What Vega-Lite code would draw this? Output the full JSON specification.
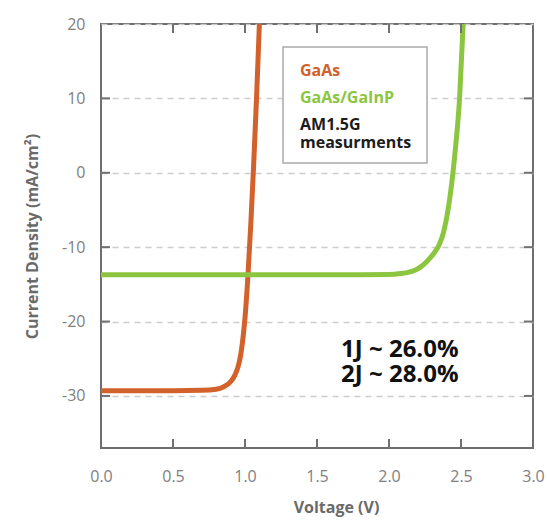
{
  "$schema": "https://vega.github.io/schema/vega-lite/v6.json",
  "width": 432,
  "height": 424,
  "autosize": {"type": "none"},
  "padding": {"left": 101, "top": 24, "right": 14, "bottom": 83},
  "background": "white",
  "config": {
    "font": "Open Sans",
    "view": {"stroke": "#6e6e6e", "strokeWidth": 2},
    "axis": {
      "domain": false,
      "ticks": false,
      "labelFlush": false,
      "labelColor": "#808080",
      "labelFontSize": 16,
      "titleColor": "#6a6a6a",
      "titleFontSize": 16,
      "titleFontWeight": "bold"
    }
  },
  "datasets": {
    "curves": [
      {"series": "GaAs", "v": 0.0, "j": -29.3},
      {"series": "GaAs", "v": 0.5, "j": -29.3},
      {"series": "GaAs", "v": 0.7, "j": -29.25},
      {"series": "GaAs", "v": 0.8, "j": -29.1},
      {"series": "GaAs", "v": 0.85, "j": -28.8},
      {"series": "GaAs", "v": 0.9, "j": -28.1},
      {"series": "GaAs", "v": 0.93, "j": -27.2},
      {"series": "GaAs", "v": 0.95, "j": -26.2},
      {"series": "GaAs", "v": 0.97, "j": -24.5},
      {"series": "GaAs", "v": 0.99, "j": -21.5},
      {"series": "GaAs", "v": 1.0, "j": -19.5},
      {"series": "GaAs", "v": 1.02, "j": -14.0},
      {"series": "GaAs", "v": 1.04, "j": -7.0},
      {"series": "GaAs", "v": 1.06, "j": 1.0},
      {"series": "GaAs", "v": 1.08, "j": 10.0},
      {"series": "GaAs", "v": 1.1, "j": 20.0},
      {"series": "GaAs/GaInP", "v": 0.0, "j": -13.7},
      {"series": "GaAs/GaInP", "v": 1.8, "j": -13.7},
      {"series": "GaAs/GaInP", "v": 2.0, "j": -13.68},
      {"series": "GaAs/GaInP", "v": 2.08, "j": -13.55},
      {"series": "GaAs/GaInP", "v": 2.14, "j": -13.35},
      {"series": "GaAs/GaInP", "v": 2.18, "j": -13.1},
      {"series": "GaAs/GaInP", "v": 2.22, "j": -12.65},
      {"series": "GaAs/GaInP", "v": 2.26, "j": -12.0},
      {"series": "GaAs/GaInP", "v": 2.29, "j": -11.35},
      {"series": "GaAs/GaInP", "v": 2.32, "j": -10.6},
      {"series": "GaAs/GaInP", "v": 2.35, "j": -9.6},
      {"series": "GaAs/GaInP", "v": 2.38, "j": -7.9},
      {"series": "GaAs/GaInP", "v": 2.41, "j": -5.0},
      {"series": "GaAs/GaInP", "v": 2.435, "j": -1.5},
      {"series": "GaAs/GaInP", "v": 2.46, "j": 3.0},
      {"series": "GaAs/GaInP", "v": 2.49, "j": 10.0},
      {"series": "GaAs/GaInP", "v": 2.515, "j": 20.0}
    ],
    "xticks": [{"v": 0.5}, {"v": 1.0}, {"v": 1.5}, {"v": 2.0}, {"v": 2.5}],
    "yticks": [{"j": -30}, {"j": -20}, {"j": -10}, {"j": 0}, {"j": 10}],
    "keybox": [
      {"v1": 1.264, "v2": 2.264, "j1": 16.9, "j2": 1.3}
    ],
    "keytext": [
      {"series": "GaAs", "label": "GaAs", "v": 1.382, "j": 13.7},
      {"series": "GaAs/GaInP", "label": "GaAs/GaInP", "v": 1.382, "j": 10.05},
      {"series": "note", "label": "AM1.5G", "v": 1.382, "j": 6.4},
      {"series": "note", "label": "measurments", "v": 1.382, "j": 4.0}
    ],
    "efficiency": [
      {"label": "1J ~ 26.0%", "v": 1.667, "j": -23.8},
      {"label": "2J ~ 28.0%", "v": 1.667, "j": -27.2}
    ]
  },
  "layer": [
    {
      "data": {"name": "curves"},
      "mark": {"type": "line", "strokeWidth": 5, "interpolate": "monotone", "clip": true},
      "encoding": {
        "x": {
          "field": "v", "type": "quantitative",
          "scale": {"domain": [0, 3], "nice": false, "zero": false},
          "axis": {
            "orient": "bottom",
            "values": [0, 0.5, 1, 1.5, 2, 2.5, 3],
            "format": ".1f",
            "grid": false,
            "labelPadding": 20,
            "title": "Voltage (V)",
            "titlePadding": 15,
            "titleX": 235
          }
        },
        "y": {
          "field": "j", "type": "quantitative",
          "scale": {"domain": [-37, 20], "nice": false, "zero": false},
          "axis": {
            "orient": "left",
            "values": [-30, -20, -10, 0, 10, 20],
            "labelExpr": "replace(datum.label, '−', '-')",
            "grid": true,
            "gridColor": "#cccccc",
            "gridDash": [6, 5],
            "gridWidth": 1.5,
            "labelPadding": 16,
            "title": "Current Density (mA/cm²)",
            "titlePadding": 21
          }
        },
        "color": {
          "field": "series", "type": "nominal",
          "scale": {"domain": ["GaAs", "GaAs/GaInP", "note"], "range": ["#d3612b", "#8cc641", "#1c1c1c"]},
          "legend": null
        }
      }
    },
    {
      "data": {"name": "xticks"},
      "mark": {"type": "rule", "strokeWidth": 2, "stroke": "#707070"},
      "encoding": {
        "x": {"field": "v", "type": "quantitative", "axis": null},
        "y": {"datum": 20, "type": "quantitative", "axis": null},
        "y2": {"datum": 18.79}
      }
    },
    {
      "data": {"name": "xticks"},
      "mark": {"type": "rule", "strokeWidth": 2, "stroke": "#707070"},
      "encoding": {
        "x": {"field": "v", "type": "quantitative", "axis": null},
        "y": {"datum": -37, "type": "quantitative", "axis": null},
        "y2": {"datum": -35.79}
      }
    },
    {
      "data": {"name": "yticks"},
      "mark": {"type": "rule", "strokeWidth": 2, "stroke": "#707070"},
      "encoding": {
        "y": {"field": "j", "type": "quantitative", "axis": null},
        "x": {"datum": 0, "type": "quantitative", "axis": null},
        "x2": {"datum": 0.0625}
      }
    },
    {
      "data": {"name": "yticks"},
      "mark": {"type": "rule", "strokeWidth": 2, "stroke": "#707070"},
      "encoding": {
        "y": {"field": "j", "type": "quantitative", "axis": null},
        "x": {"datum": 3, "type": "quantitative", "axis": null},
        "x2": {"datum": 2.9375}
      }
    },
    {
      "data": {"name": "keybox"},
      "mark": {"type": "rect", "fill": "white", "stroke": "#aaaaaa", "strokeWidth": 1.5},
      "encoding": {
        "x": {"field": "v1", "type": "quantitative", "axis": null},
        "x2": {"field": "v2"},
        "y": {"field": "j1", "type": "quantitative", "axis": null},
        "y2": {"field": "j2"}
      }
    },
    {
      "data": {"name": "keytext"},
      "mark": {"type": "text", "align": "left", "baseline": "middle", "fontSize": 16, "fontWeight": "bold"},
      "encoding": {
        "x": {"field": "v", "type": "quantitative", "axis": null},
        "y": {"field": "j", "type": "quantitative", "axis": null},
        "text": {"field": "label"},
        "color": {"field": "series", "type": "nominal", "legend": null}
      }
    },
    {
      "data": {"name": "efficiency"},
      "mark": {"type": "text", "align": "left", "baseline": "middle", "fontSize": 24, "fontWeight": "bold", "color": "#111111"},
      "encoding": {
        "x": {"field": "v", "type": "quantitative", "axis": null},
        "y": {"field": "j", "type": "quantitative", "axis": null},
        "text": {"field": "label"}
      }
    }
  ],
  "resolve": {"axis": {"x": "independent", "y": "independent"}}
}
